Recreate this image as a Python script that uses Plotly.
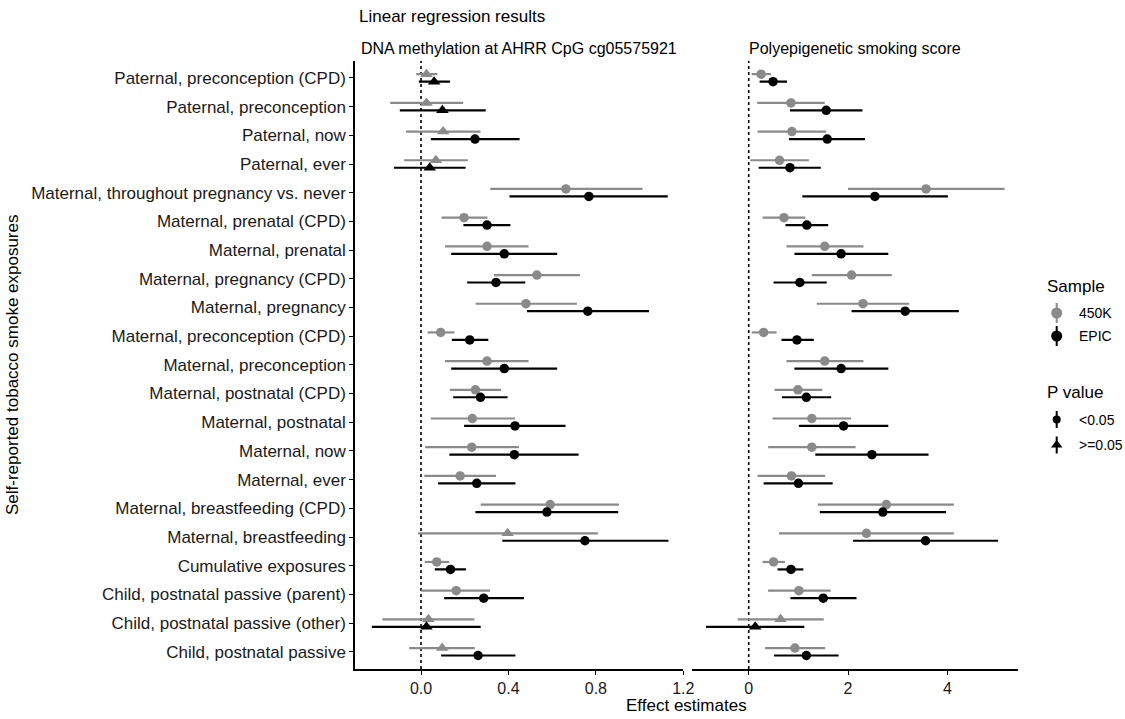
import plotly.graph_objects as go

# ---------------- data ----------------
exposures = [
    "Paternal, preconception (CPD)",
    "Paternal, preconception",
    "Paternal, now",
    "Paternal, ever",
    "Maternal, throughout pregnancy vs. never",
    "Maternal, prenatal (CPD)",
    "Maternal, prenatal",
    "Maternal, pregnancy (CPD)",
    "Maternal, pregnancy",
    "Maternal, preconception (CPD)",
    "Maternal, preconception",
    "Maternal, postnatal (CPD)",
    "Maternal, postnatal",
    "Maternal, now",
    "Maternal, ever",
    "Maternal, breastfeeding (CPD)",
    "Maternal, breastfeeding",
    "Cumulative exposures",
    "Child, postnatal passive (parent)",
    "Child, postnatal passive (other)",
    "Child, postnatal passive",
]

# DNA methylation at AHRR cg05575921 -- 450K
ahrr_450k_est = [0.025, 0.025, 0.101, 0.068, 0.663, 0.197, 0.302, 0.530, 0.480, 0.090, 0.302,
                 0.249, 0.235, 0.232, 0.179, 0.591, 0.396, 0.072, 0.161, 0.034, 0.097]
ahrr_450k_lo = [-0.022, -0.141, -0.068, -0.077, 0.317, 0.094, 0.110, 0.334, 0.250, 0.030, 0.110,
                0.132, 0.045, 0.019, 0.015, 0.273, -0.013, 0.017, 0.001, -0.177, -0.054]
ahrr_450k_hi = [0.075, 0.193, 0.272, 0.214, 1.013, 0.304, 0.492, 0.727, 0.713, 0.153, 0.492,
                0.366, 0.430, 0.448, 0.343, 0.906, 0.809, 0.129, 0.316, 0.244, 0.246]
ahrr_450k_p = [">=0.05", ">=0.05", ">=0.05", ">=0.05", "<0.05", "<0.05", "<0.05", "<0.05", "<0.05", "<0.05", "<0.05",
               "<0.05", "<0.05", "<0.05", "<0.05", "<0.05", ">=0.05", "<0.05", "<0.05", ">=0.05", ">=0.05"]

# DNA methylation at AHRR cg05575921 -- EPIC
ahrr_epic_est = [0.060, 0.098, 0.247, 0.040, 0.768, 0.302, 0.381, 0.343, 0.763, 0.223, 0.381,
                 0.272, 0.430, 0.427, 0.255, 0.576, 0.750, 0.135, 0.287, 0.025, 0.261]
ahrr_epic_lo = [-0.010, -0.097, 0.045, -0.124, 0.405, 0.194, 0.138, 0.211, 0.485, 0.141, 0.138,
                0.147, 0.197, 0.130, 0.078, 0.249, 0.372, 0.063, 0.106, -0.225, 0.092]
ahrr_epic_hi = [0.133, 0.296, 0.451, 0.204, 1.129, 0.409, 0.623, 0.477, 1.043, 0.308, 0.623,
                0.396, 0.661, 0.721, 0.432, 0.902, 1.132, 0.206, 0.471, 0.273, 0.432]
ahrr_epic_p = [">=0.05", ">=0.05", "<0.05", ">=0.05", "<0.05", "<0.05", "<0.05", "<0.05", "<0.05", "<0.05", "<0.05",
               "<0.05", "<0.05", "<0.05", "<0.05", "<0.05", "<0.05", "<0.05", "<0.05", ">=0.05", "<0.05"]

# Polyepigenetic smoking score -- 450K
pss_450k_est = [0.25, 0.85, 0.87, 0.62, 3.57, 0.71, 1.53, 2.07, 2.30, 0.30, 1.53,
                0.99, 1.27, 1.27, 0.86, 2.77, 2.37, 0.50, 1.01, 0.64, 0.93]
pss_450k_lo = [0.06, 0.17, 0.18, 0.03, 2.00, 0.28, 0.76, 1.27, 1.37, 0.06, 0.76,
               0.52, 0.48, 0.39, 0.18, 1.39, 0.61, 0.28, 0.39, -0.22, 0.33]
pss_450k_hi = [0.45, 1.53, 1.56, 1.21, 5.15, 1.14, 2.31, 2.88, 3.23, 0.56, 2.31,
               1.48, 2.06, 2.15, 1.54, 4.13, 4.13, 0.73, 1.65, 1.51, 1.54]
pss_450k_p = ["<0.05"] * 19 + [">=0.05", "<0.05"]

# Polyepigenetic smoking score -- EPIC
pss_epic_est = [0.49, 1.56, 1.58, 0.83, 2.54, 1.17, 1.86, 1.03, 3.15, 0.97, 1.86,
                1.16, 1.91, 2.48, 1.00, 2.70, 3.56, 0.85, 1.50, 0.13, 1.16]
pss_epic_lo = [0.22, 0.83, 0.81, 0.20, 1.08, 0.74, 0.92, 0.50, 2.07, 0.66, 0.92,
               0.67, 1.01, 1.34, 0.30, 1.43, 2.10, 0.58, 0.84, -0.86, 0.51]
pss_epic_hi = [0.77, 2.29, 2.34, 1.45, 4.01, 1.60, 2.81, 1.57, 4.23, 1.31, 2.81,
               1.66, 2.81, 3.62, 1.69, 3.97, 5.02, 1.10, 2.17, 1.12, 1.81]
pss_epic_p = ["<0.05"] * 19 + [">=0.05", "<0.05"]

samples = ["450K", "EPIC"]
sample_colors = {"450K": "#8a8a8a", "EPIC": "#000000"}
p_symbols = {"<0.05": "circle", ">=0.05": "triangle-up"}
p_sizes = {"<0.05": 9.5, ">=0.05": 11}
dodge = {"450K": 0.13, "EPIC": -0.13}

panels = [
    ("x", {"450K": (ahrr_450k_est, ahrr_450k_lo, ahrr_450k_hi, ahrr_450k_p),
           "EPIC": (ahrr_epic_est, ahrr_epic_lo, ahrr_epic_hi, ahrr_epic_p)}),
    ("x2", {"450K": (pss_450k_est, pss_450k_lo, pss_450k_hi, pss_450k_p),
            "EPIC": (pss_epic_est, pss_epic_lo, pss_epic_hi, pss_epic_p)}),
]

n = len(exposures)
ypos = [n - i for i in range(n)]

W, H = 1125, 719
FONT = "Liberation Sans, Arial, sans-serif"

fig = go.Figure()

# reference dotted lines at zero
for xa in ["x", "x2"]:
    fig.add_trace(go.Scatter(x=[0, 0], y=[0.4, n + 0.6], mode="lines", xaxis=xa, yaxis="y",
                             line=dict(color="black", width=1.6, dash="dot"),
                             showlegend=False, hoverinfo="skip"))

for xa, data in panels:
    for s in samples:
        est, lo, hi, p = data[s]
        yy = [y + dodge[s] for y in ypos]
        lx, ly = [], []
        for a, b, y in zip(lo, hi, yy):
            lx += [a, b, None]
            ly += [y, y, None]
        fig.add_trace(go.Scatter(x=lx, y=ly, mode="lines", xaxis=xa, yaxis="y",
                                 line=dict(color=sample_colors[s], width=2.2),
                                 showlegend=False, hoverinfo="skip"))
        fig.add_trace(go.Scatter(x=est, y=yy, mode="markers", xaxis=xa, yaxis="y",
                                 marker=dict(color=sample_colors[s], size=[p_sizes[q] for q in p],
                                             symbol=[p_symbols[q] for q in p], opacity=1,
                                             line=dict(width=0)),
                                 opacity=1, showlegend=False, name=s))

# ---------------- legend (drawn on its own hidden axes, pixel-like units) ----------------
leg_items = [
    ("450K", "#8a8a8a", "circle", 313),
    ("EPIC", "#000000", "circle", 336),
    ("<0.05", "#000000", "circle", 419.5),
    (">=0.05", "#000000", "triangle-up", 445),
]
for lab, col, sym, yc in leg_items:
    half = 10 if lab in ("450K", "EPIC") else 8.5
    fig.add_trace(go.Scatter(x=[16.7, 16.7], y=[yc - half, yc + half], mode="lines", xaxis="x3", yaxis="y3",
                             line=dict(color=col, width=2), showlegend=False, hoverinfo="skip"))
    fig.add_trace(go.Scatter(x=[16.7], y=[yc], mode="markers", xaxis="x3", yaxis="y3",
                             marker=dict(color=col, symbol=sym, opacity=1,
                                         size=(11 if lab in ("450K", "EPIC") else 8 if sym == "circle" else 10)),
                             showlegend=False, hoverinfo="skip"))

annotations = [
    dict(text="Linear regression results", x=357 / W, y=1 - 17 / H, xanchor="left", yanchor="middle",
         font=dict(size=17)),
    dict(text="DNA methylation at AHRR CpG cg05575921", x=519 / W, y=1 - 48 / H, xanchor="center",
         yanchor="middle", font=dict(size=16)),
    dict(text="Polyepigenetic smoking score", x=855 / W, y=1 - 48 / H, xanchor="center", yanchor="middle",
         font=dict(size=16)),
    dict(text="Effect estimates", x=686.5 / W, y=1 - 705 / H, xanchor="center", yanchor="middle",
         font=dict(size=17)),
    dict(text="Self-reported tobacco smoke exposures", x=13 / W, y=1 - 365 / H, xanchor="center",
         yanchor="middle", textangle=-90, font=dict(size=17)),
    dict(text="Sample", x=1045 / W, y=1 - 286 / H, xanchor="left", yanchor="middle", font=dict(size=17)),
    dict(text="P value", x=1045 / W, y=1 - 392 / H, xanchor="left", yanchor="middle", font=dict(size=17)),
]
for lab, col, sym, yc in leg_items:
    annotations.append(dict(text=lab, x=1077 / W, y=1 - yc / H, xanchor="left", yanchor="middle",
                            font=dict(size=14)))
for a in annotations:
    a.update(xref="paper", yref="paper", showarrow=False)
    a["font"].update(family=FONT, color="black")

axis_common = dict(showgrid=False, zeroline=False, showline=True, linecolor="black", linewidth=1.5,
                   ticks="outside", ticklen=4, tickwidth=1.2, tickcolor="black",
                   tickfont=dict(family=FONT, size=16, color="#1a1a1a"), automargin=False)

fig.update_layout(
    width=W, height=H,
    margin=dict(l=0, r=0, t=0, b=0),
    paper_bgcolor="white", plot_bgcolor="white",
    font=dict(family=FONT, color="black"),
    showlegend=False,
    xaxis=dict(domain=[355 / W, 683.3 / W], range=[-0.302, 1.2], anchor="y",
               tickvals=[0, 0.4, 0.8, 1.2], ticktext=["0.0", "0.4", "0.8", "1.2"], **axis_common),
    xaxis2=dict(domain=[692 / W, 1018 / W], range=[-1.142, 5.421], anchor="y",
                tickvals=[0, 2, 4], ticktext=["0", "2", "4"], **axis_common),
    yaxis=dict(domain=[1 - 669 / H, 1 - 60.7 / H], range=[0.4, n + 0.6], anchor="x",
               tickvals=ypos, ticktext=exposures,
               **{**axis_common, "tickfont": dict(family=FONT, size=17, color="#1a1a1a")}),
    xaxis3=dict(domain=[1040 / W, 1075 / W], range=[0, 35], visible=False, anchor="y3"),
    yaxis3=dict(domain=[0, 1], range=[H, 0], visible=False, anchor="x3"),
    annotations=annotations,
)

fig.write_html("out.html")
